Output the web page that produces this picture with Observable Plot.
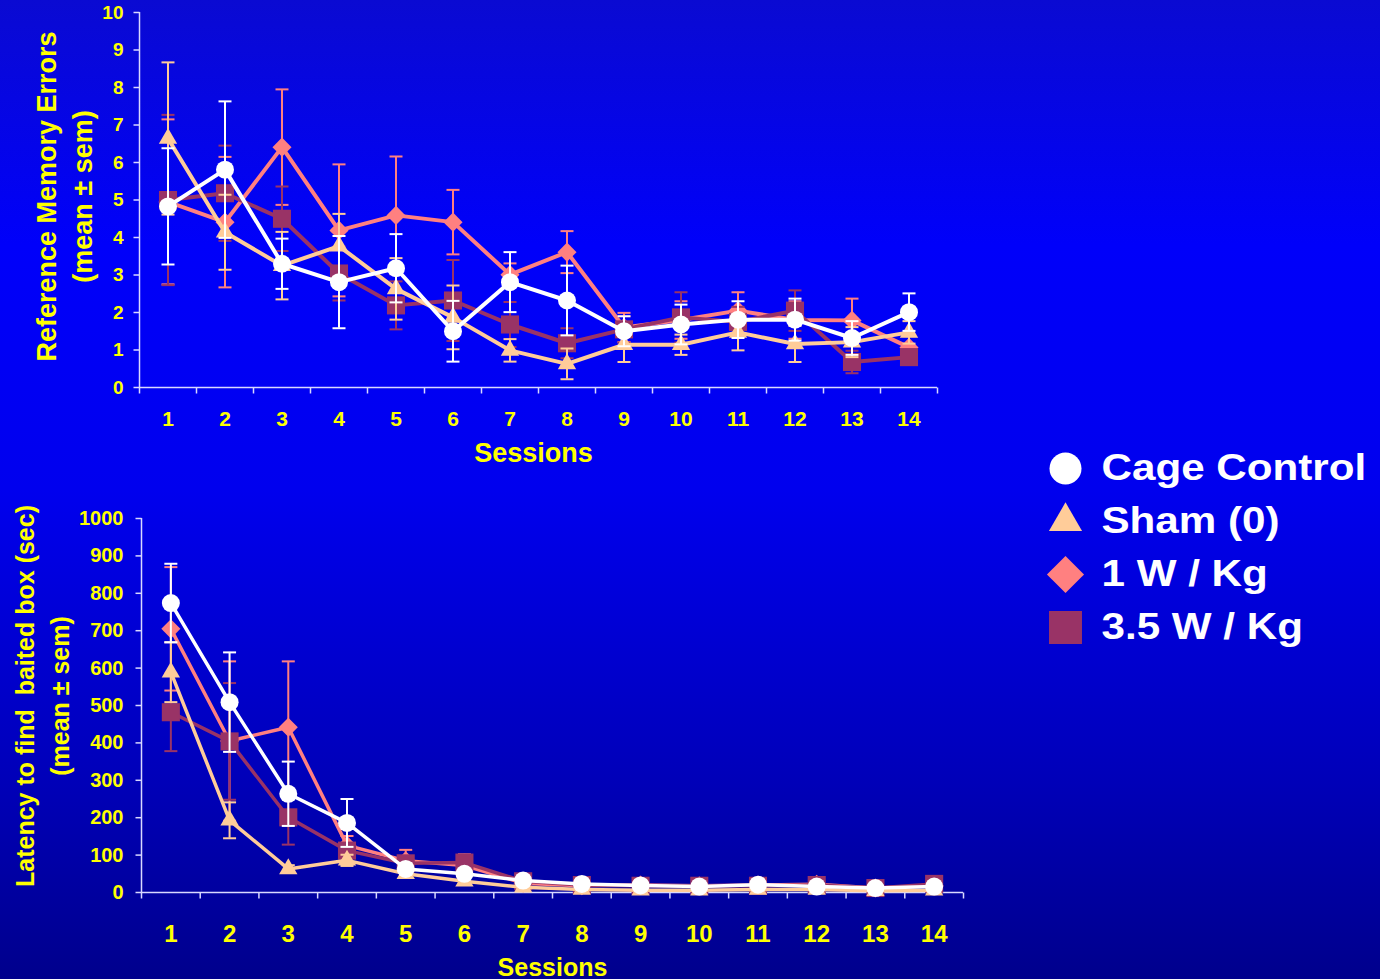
<!DOCTYPE html>
<html>
<head>
<meta charset="utf-8">
<script src="https://cdn.jsdelivr.net/npm/d3@7"></script>
<script src="https://cdn.jsdelivr.net/npm/@observablehq/plot@0.6"></script>
<style>
html,body{margin:0;padding:0;}
body{width:1380px;height:979px;overflow:hidden;position:relative;
background:linear-gradient(to bottom,#0a0ad2 0%,#0000fa 25%,#0000ee 50%,#0000b8 80%,#00008c 100%);
font-family:"Liberation Sans",Arial,sans-serif;}
#top{position:absolute;left:0;top:0;}
#bottom{position:absolute;left:0;top:490px;}
#legend{position:absolute;left:1030px;top:430px;}
svg{overflow:visible;}
</style>
</head>
<body>
<div id="top"></div>
<div id="bottom"></div>
<div id="legend"></div>
<script>
// ---------- data ----------
const sessions = [1,2,3,4,5,6,7,8,9,10,11,12,13,14];
const seriesNames = ["Cage Control", "Sham (0)", "1 W / Kg", "3.5 W / Kg"];
const errorTicks = [0,1,2,3,4,5,6,7,8,9,10];
const latencyTicks = [0,100,200,300,400,500,600,700,800,900,1000];
const sessionsLabel = "Sessions";
const errorsTitle = "Reference Memory Errors\n(mean ± sem)";
const latencyTitle = "Latency to find  baited box (sec)\n(mean ± sem)";

// Reference memory errors (mean, sem)
const cageErrors    = [4.83, 5.81, 3.30, 2.81, 3.18, 1.50, 2.81, 2.32, 1.50, 1.68, 1.81, 1.81, 1.32, 2.01];
const cageErrorsSem = [1.55, 1.82, 0.67, 1.23, 0.91, 0.81, 0.80, 0.93, 0.40, 0.53, 0.49, 0.56, 0.45, 0.50];
const shamErrors    = [6.64, 4.14, 3.25, 3.77, 2.63, 1.87, 0.99, 0.63, 1.14, 1.14, 1.47, 1.16, 1.21, 1.47];
const shamErrorsSem = [2.03, 1.00, 0.90, 0.86, 0.82, 0.85, 0.30, 0.41, 0.46, 0.27, 0.48, 0.48, 0.40, 0.30];
const oneWErrors    = [4.95, 4.41, 6.41, 4.19, 4.59, 4.41, 3.01, 3.61, 1.60, 1.80, 2.05, 1.80, 1.79, 1.07];
const oneWErrorsSem = [2.20, 1.74, 1.54, 1.76, 1.57, 0.86, 0.30, 0.56, 0.39, 0.50, 0.49, 0.50, 0.58, 0.30];
const threeErrors    = [5.00, 5.18, 4.50, 3.04, 2.19, 2.32, 1.68, 1.18, 1.55, 1.87, 1.75, 2.05, 0.68, 0.81];
const threeErrorsSem = [2.27, 1.27, 0.86, 0.72, 0.64, 1.08, 0.60, 0.40, 0.35, 0.67, 0.40, 0.54, 0.30, 0.20];

// Latency to find baited box (mean, sem)
const cageLatency    = [774, 509, 264, 186, 63, 50, 32, 23, 19, 16, 21, 16, 12, 16];
const cageLatencySem = [105, 133, 86, 64, 15, 12, 8, 5, 4, 4, 5, 4, 3, 4];
const shamLatency    = [589, 193, 63, 86, 50, 30, 14, 8, 6, 6, 8, 8, 5, 6];
const shamLatencySem = [80, 48, 10, 15, 8, 6, 4, 3, 2, 2, 3, 3, 2, 2];
const oneWLatency    = [705, 405, 442, 126, 85, 72, 25, 18, 20, 18, 20, 22, 12, 18];
const oneWLatencySem = [165, 213, 176, 25, 29, 30, 6, 5, 5, 4, 5, 6, 3, 5];
const threeLatency    = [482, 404, 201, 112, 78, 80, 30, 20, 18, 18, 18, 20, 12, 23];
const threeLatencySem = [104, 156, 73, 20, 12, 15, 5, 4, 4, 4, 4, 4, 3, 4];

// ---------- styles ----------
const seriesColors  = ["#ffffff", "#ffcc99", "#ff8080", "#993366"];
const seriesSymbols = ["circle", "triangle", "diamond2", "square"];
const markerR = [9, 6.8, 8.6, 10.2];
const legendR = [16, 12.3, 16.7, 18.6];
const drawOrder = [2, 3, 1, 0];
const AX = "#d8d8ff";
const YELLOW = "#ffff00";
const FONT = "'Liberation Sans', Arial, sans-serif";

const hCap  = {draw(ctx, size) { const w = Math.sqrt(size / Math.PI); ctx.moveTo(-w, 0); ctx.lineTo(w, 0); }};
const yTick = {draw(ctx, size) { const w = Math.sqrt(size / Math.PI); ctx.moveTo(-w, 0); ctx.lineTo(0, 0); }};
const xTick = {draw(ctx, size) { const w = Math.sqrt(size / Math.PI); ctx.moveTo(0, 0); ctx.lineTo(0, w); }};

function rowsFor(means, sems) {
  return sessions.map((s, j) => ({session: s, mean: means[j], lo: means[j] - sems[j], hi: means[j] + sems[j]}));
}

function makeChart(cfg) {
  const boundaries = sessions.map(s => s - 0.5).concat([sessions[sessions.length - 1] + 0.5]);
  const marks = [
    Plot.ruleX([boundaries[0]], {stroke: AX, strokeWidth: 1.5}),
    Plot.ruleY([0], {stroke: AX, strokeWidth: 1.5}),
    Plot.dot(cfg.yTicks, {y: d => d, frameAnchor: "left", symbol: yTick, r: 6, stroke: AX, fill: "none", strokeWidth: 1.5}),
    Plot.dot(boundaries, {x: d => d, frameAnchor: "bottom", symbol: xTick, r: 6, stroke: AX, fill: "none", strokeWidth: 1.5}),
    Plot.text(cfg.yTicks, {y: d => d, text: d => String(d), frameAnchor: "left", dx: cfg.yLabelDx, textAnchor: "end",
      lineAnchor: "middle", fill: YELLOW, fontSize: cfg.yFont, fontWeight: "bold"}),
    Plot.text(sessions, {x: d => d, text: d => String(d), frameAnchor: "bottom", dy: cfg.xLabelDy, textAnchor: "middle",
      lineAnchor: "middle", fill: YELLOW, fontSize: cfg.xFont, fontWeight: "bold"}),
    Plot.text([sessionsLabel], {text: d => d, frameAnchor: "bottom", dy: cfg.titleDy, dx: cfg.titleDx, textAnchor: "middle",
      lineAnchor: "middle", fill: YELLOW, fontSize: cfg.titleFont, fontWeight: "bold"}),
    Plot.text([cfg.yTitle], {text: d => d, frameAnchor: "left", dx: cfg.yTitleDx, dy: cfg.yTitleDy, rotate: -90,
      textAnchor: "middle", lineAnchor: "middle",
      fill: YELLOW, fontSize: cfg.yTitleFont, fontWeight: "bold", lineHeight: cfg.yTitleLH})
  ];
  for (const i of drawOrder) {
    const rows = rowsFor(cfg.means[i], cfg.sems[i]);
    const c = seriesColors[i];
    marks.push(Plot.line(rows, {x: "session", y: "mean", stroke: c, strokeWidth: cfg.lineW, strokeLinejoin: "round"}));
    marks.push(Plot.ruleX(rows, {x: "session", y1: "lo", y2: "hi", stroke: c, strokeWidth: 2}));
    marks.push(Plot.dot(rows, {x: "session", y: "hi", symbol: hCap, r: 6.5, stroke: c, fill: "none", strokeWidth: 2}));
    marks.push(Plot.dot(rows, {x: "session", y: "lo", symbol: hCap, r: 6.5, stroke: c, fill: "none", strokeWidth: 2}));
    marks.push(Plot.dot(rows, {x: "session", y: "mean", symbol: seriesSymbols[i], r: markerR[i], fill: c, stroke: "none"}));
  }
  return Plot.plot({
    width: cfg.width, height: cfg.height,
    marginLeft: cfg.ml, marginRight: cfg.mr, marginTop: cfg.mt, marginBottom: cfg.mb,
    x: {type: "linear", domain: [boundaries[0], boundaries[boundaries.length - 1]], axis: null},
    y: {type: "linear", domain: [0, cfg.yTicks[cfg.yTicks.length - 1]], axis: null},
    style: {background: "transparent", fontFamily: FONT, overflow: "visible"},
    marks
  });
}

function squeezeText(t, sx) {
  let tr = t.getAttribute("transform");
  if (!tr) {
    const x = t.getAttribute("x") || 0, y = t.getAttribute("y") || 0;
    t.removeAttribute("x"); t.removeAttribute("y");
    tr = `translate(${x},${y})`;
  }
  t.setAttribute("transform", tr + ` scale(${sx},1)`);
}

document.getElementById("top").append(makeChart({
  width: 960, height: 480, ml: 139, mr: 23, mt: 12, mb: 93,
  yTicks: errorTicks,
  means: [cageErrors, shamErrors, oneWErrors, threeErrors],
  sems: [cageErrorsSem, shamErrorsSem, oneWErrorsSem, threeErrorsSem],
  yLabelDx: -16, yFont: 19, xLabelDy: 32, xFont: 21, titleDy: 66, titleDx: -5, titleFont: 27,
  yTitle: errorsTitle, yTitleDx: -77, yTitleDy: -3.5, yTitleFont: 27, yTitleLH: 1.33, lineW: 4
}));

document.getElementById("bottom").append(makeChart({
  width: 990, height: 489, ml: 141, mr: 27, mt: 28, mb: 87,
  yTicks: latencyTicks,
  means: [cageLatency, shamLatency, oneWLatency, threeLatency],
  sems: [cageLatencySem, shamLatencySem, oneWLatencySem, threeLatencySem],
  yLabelDx: -18, yFont: 20, xLabelDy: 42, xFont: 24, titleDy: 75, titleDx: 0, titleFont: 25,
  yTitle: latencyTitle, yTitleDx: -101, yTitleDy: -9.5, yTitleFont: 25, yTitleLH: 1.38, lineW: 3.5
}));

// legend
const legendMarks = [];
seriesNames.forEach((name, i) => {
  legendMarks.push(Plot.dot([name], {x: () => 0, y: d => d, symbol: seriesSymbols[i], r: legendR[i], fill: seriesColors[i], stroke: "none"}));
});
legendMarks.push(Plot.text(seriesNames, {x: () => 1, y: d => d, text: d => d, textAnchor: "start", lineAnchor: "middle", fill: "#ffffff",
  fontSize: 37, fontWeight: "bold", ariaDescription: "legendtext"}));
const legendSvg = Plot.plot({
  width: 350, height: 230, margin: 0,
  x: {type: "linear", domain: [0, 1], range: [35, 71], axis: null},
  y: {type: "point", domain: seriesNames, range: [38, 197], padding: 0, axis: null},
  style: {background: "transparent", fontFamily: FONT, overflow: "visible"},
  marks: legendMarks
});
legendSvg.querySelectorAll('g[aria-description="legendtext"] text').forEach(t => squeezeText(t, 1.14));
document.getElementById("legend").append(legendSvg);
</script>
</body>
</html>
